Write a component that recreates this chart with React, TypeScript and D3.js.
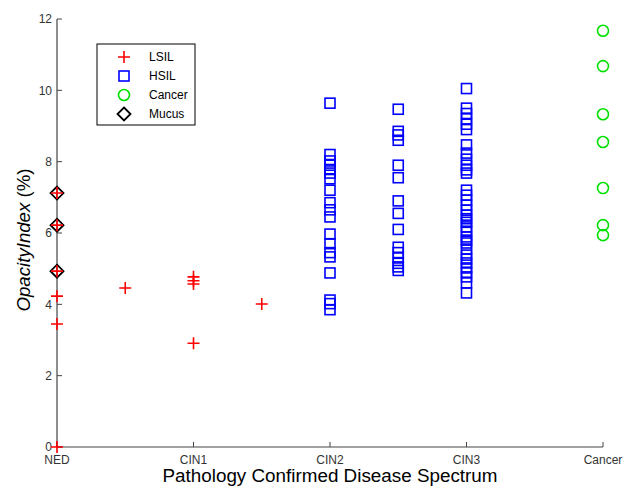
import React from "react";
import * as d3 from "d3";

const categories = ["NED", "CIN1", "CIN2", "CIN3", "Cancer"];
const yTicks = [0, 2, 4, 6, 8, 10, 12];

// [x position (category index), value]
const lsil: [number, number][] = [
  [0, 0], [0, 3.45], [0, 4.23], [0, 4.93], [0, 6.22], [0, 7.12],
  [0.5, 4.46],
  [1, 4.77], [1, 4.66], [1, 4.57], [1, 2.91],
  [1.5, 4.01],
];

const hsilCIN2 = [9.64, 8.2, 8.02, 7.9, 7.78, 7.68, 7.52, 7.2, 6.85, 6.65, 6.45, 5.97, 5.7, 5.45, 5.33, 4.88, 4.12, 4.02, 3.85];
const hsilMid = [9.47, 8.85, 8.75, 8.6, 7.9, 7.55, 6.9, 6.55, 6.1, 5.6, 5.45, 5.3, 5.15, 5.05, 4.95];
const hsilCIN3 = [10.05, 9.5, 9.35, 9.2, 9.05, 8.9, 8.47, 8.24, 8.07, 7.9, 7.77, 7.68, 7.2, 7.06, 6.92, 6.78, 6.64, 6.5, 6.4, 6.3, 6.17, 6.05, 5.89, 5.8, 5.72, 5.55, 5.38, 5.27, 5.16, 5.02, 4.9, 4.77, 4.6, 4.32];
const cancer = [11.67, 10.68, 9.33, 8.55, 7.26, 6.22, 5.94];
const mucus = [4.93, 6.22, 7.12];

const legendItems = ["LSIL", "HSIL", "Cancer", "Mucus"];

const W = 625, H = 488;
const left = 57, right = 603, top = 19, bottom = 447;

export default function App() {
  const x = d3.scaleLinear().domain([0, 4]).range([left, right]);
  const y = d3.scaleLinear().domain([0, 12]).range([bottom, top]);
  const axisColor = "#444";
  const font = "Arial, 'Liberation Sans', sans-serif";

  const plus = (cx: number, cy: number, key: string, s = 6) => (
    <path key={key} d={`M${cx - s},${cy}H${cx + s}M${cx},${cy - s}V${cy + s}`} stroke="#ff0000" strokeWidth={1.6} fill="none" />
  );
  const square = (cx: number, cy: number, key: string, s = 5) => (
    <rect key={key} x={cx - s} y={cy - s} width={2 * s} height={2 * s} stroke="#0000ff" strokeWidth={1.6} fill="none" />
  );
  const circle = (cx: number, cy: number, key: string) => (
    <circle key={key} cx={cx} cy={cy} r={5.5} stroke="#00e000" strokeWidth={1.6} fill="none" />
  );
  const diamond = (cx: number, cy: number, key: string, s = 6.5) => (
    <path key={key} d={`M${cx},${cy - s}L${cx + s},${cy}L${cx},${cy + s}L${cx - s},${cy}Z`} stroke="#000" strokeWidth={1.8} fill="none" />
  );

  const legendX = 97, legendY = 44, legendW = 98, legendH = 81;
  const legendMarkers = [
    (cx: number, cy: number) => plus(cx, cy, "lp"),
    (cx: number, cy: number) => square(cx, cy, "ls"),
    (cx: number, cy: number) => circle(cx, cy, "lc"),
    (cx: number, cy: number) => diamond(cx, cy, "ld"),
  ];

  return (
    <svg width={W} height={H} style={{ position: "absolute", left: 0, top: 0, background: "#fff" }} fontFamily={font}>
      <rect x={0} y={0} width={W} height={H} fill="#fff" />
      {/* axes */}
      <line x1={left} x2={right} y1={bottom} y2={bottom} stroke={axisColor} strokeWidth={1.2} />
      <line x1={left} x2={left} y1={top} y2={bottom} stroke={axisColor} strokeWidth={1.2} />
      {yTicks.map((t) => (
        <g key={"yt" + t}>
          <line x1={left} x2={left + 5} y1={y(t)} y2={y(t)} stroke={axisColor} strokeWidth={1} />
          <text x={left - 5} y={y(t)} dy="0.35em" textAnchor="end" fontSize={12} fill="#333">{t}</text>
        </g>
      ))}
      {categories.map((c, i) => (
        <g key={"xt" + c}>
          <line x1={x(i)} x2={x(i)} y1={bottom} y2={bottom - 5} stroke={axisColor} strokeWidth={1} />
          <text x={x(i)} y={bottom + 17} textAnchor="middle" fontSize={12} fill="#333">{c}</text>
        </g>
      ))}
      <text x={330} y={482} textAnchor="middle" fontSize={17.5} fill="#000" textLength={335} lengthAdjust="spacingAndGlyphs">Pathology Confirmed Disease Spectrum</text>
      <text transform={`translate(30,240) rotate(-90)`} textAnchor="middle" fontSize={18} fill="#000" textLength={143} lengthAdjust="spacingAndGlyphs">
        <tspan fontStyle="italic">OpacityIndex</tspan> (%)
      </text>

      {/* data */}
      {mucus.map((v, i) => diamond(x(0), y(v), "m" + i))}
      {hsilCIN2.map((v, i) => square(x(2), y(v), "h2" + i))}
      {hsilMid.map((v, i) => square(x(2.5), y(v), "hm" + i))}
      {hsilCIN3.map((v, i) => square(x(3), y(v), "h3" + i))}
      {cancer.map((v, i) => circle(x(4), y(v), "c" + i))}
      {lsil.map(([px, v], i) => plus(x(px), y(v), "l" + i))}

      {/* legend */}
      <rect x={legendX} y={legendY} width={legendW} height={legendH} fill="#fff" stroke="#000" strokeWidth={1} />
      {legendItems.map((name, i) => {
        const cy = legendY + 13 + i * 19;
        return (
          <g key={"leg" + name}>
            {legendMarkers[i](124, cy)}
            <text x={149} y={cy} dy="0.35em" fontSize={12} fill="#000">{name}</text>
          </g>
        );
      })}
    </svg>
  );
}
